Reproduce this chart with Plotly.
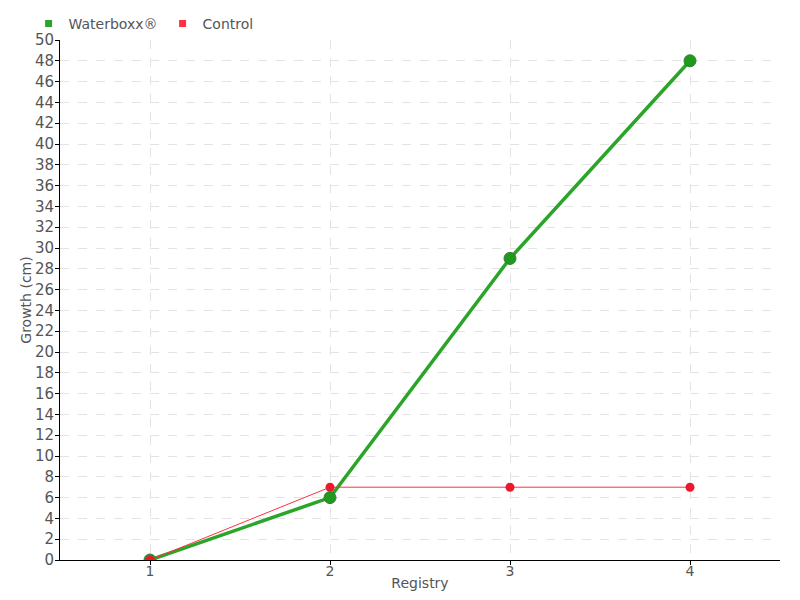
import plotly.graph_objects as go

registry = [1, 2, 3, 4]
waterboxx = [0, 6, 29, 48]
control = [0, 7, 7, 7]
y_ticks = list(range(0, 51, 2))
series_names = ["Waterboxx®", "Control"]
line_colors = ["#2aa52a", "#ff3040"]
marker_colors = ["#1f9a1f", "#ea1a2c"]

font_family = "DejaVu Sans, sans-serif"

fig = go.Figure()
fig.add_trace(go.Scatter(
    x=registry, y=waterboxx, name=series_names[0], mode="lines+markers",
    line=dict(color=line_colors[0], width=3.5),
    marker=dict(color=marker_colors[0], size=12, line=dict(color="#2f7f2f", width=1)),
    showlegend=False,
))
fig.add_trace(go.Scatter(
    x=registry, y=control, name=series_names[1], mode="lines+markers",
    line=dict(color=line_colors[1], width=1),
    marker=dict(color=marker_colors[1], size=9, line=dict(width=0)),
    showlegend=False,
))
# legend entries as small squares
for name, col in zip(series_names, line_colors):
    fig.add_trace(go.Scatter(
        x=[None], y=[None], name=name, mode="markers",
        marker=dict(color=col, size=7, symbol="square"),
        showlegend=True,
    ))

fig.update_layout(
    width=792, height=592,
    margin=dict(l=52, r=20, t=32, b=40, autoexpand=False),
    paper_bgcolor="white", plot_bgcolor="white",
    font=dict(family=font_family, size=14, color="#555555"),
    showlegend=True,
    legend=dict(orientation="h", xref="container", yref="container",
                x=0.026, xanchor="left", y=1.0, yanchor="top",
                font=dict(size=14, color="#555555"), itemwidth=30,
                tracegroupgap=0, bgcolor="rgba(0,0,0,0)"),
    xaxis=dict(
        range=[0.5, 4.5], tickmode="array", tickvals=registry,
        ticktext=[str(v) for v in registry],
        showline=True, linecolor="black", linewidth=1,
        ticks="outside", ticklen=4, tickcolor="black",
        tickfont=dict(size=14), ticklabelstandoff=-6,
        showgrid=True, gridcolor="#e3e3e3", griddash="dash", gridwidth=1,
        zeroline=False, automargin=False,
        title=dict(text="Registry", standoff=0, font=dict(size=14)),
    ),
    yaxis=dict(
        range=[0, 50], tickmode="array", tickvals=y_ticks,
        showline=True, linecolor="black", linewidth=1,
        ticks="outside", ticklen=4, tickcolor="black",
        tickfont=dict(size=15), ticklabelstandoff=-2,
        showgrid=True, gridcolor="#e3e3e3", griddash="dash", gridwidth=1,
        zeroline=False, automargin=False,
        title=dict(text="Growth (cm)", standoff=0, font=dict(size=14)),
    ),
)

fig.write_html("out.html")
